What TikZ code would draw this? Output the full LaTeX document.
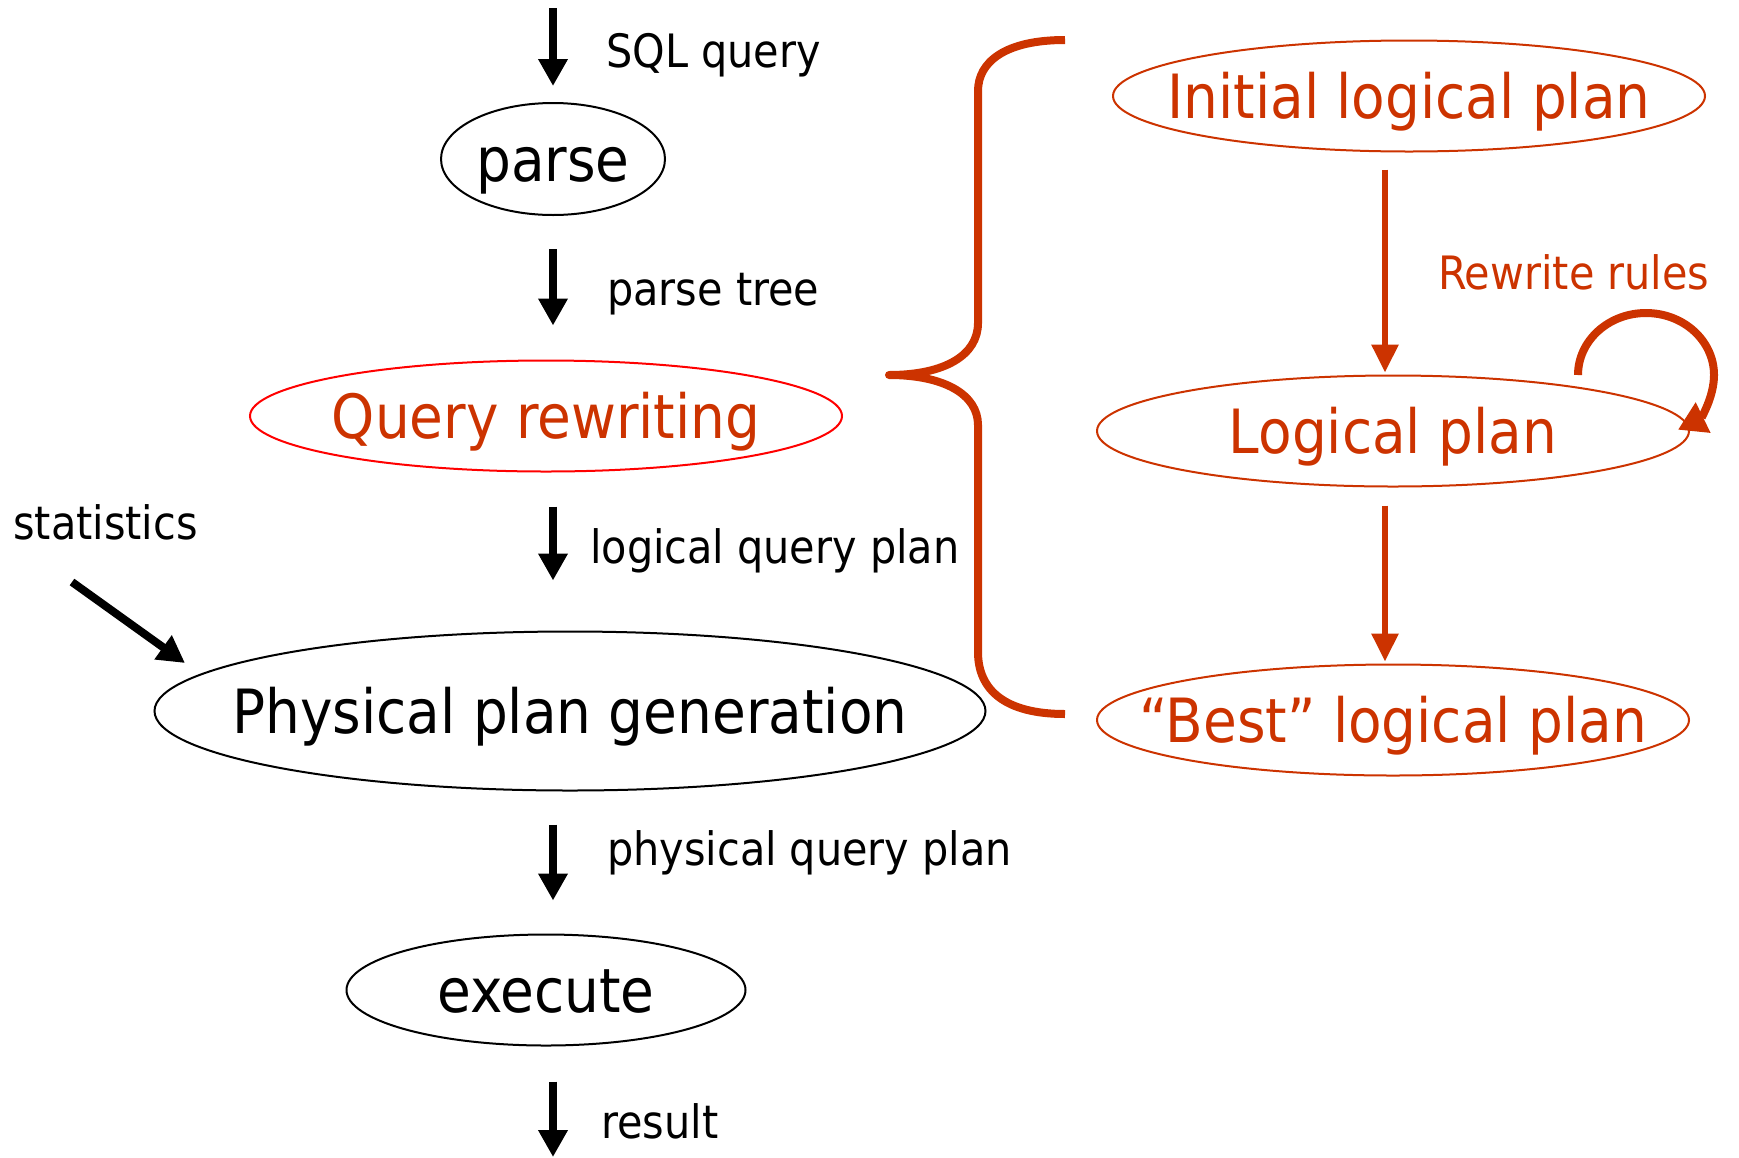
\documentclass[tikz,border=0pt]{standalone}
\usepackage{fontspec}
\setmainfont{DejaVu Sans Condensed}
\usetikzlibrary{shapes.geometric,arrows.meta,positioning}
\definecolor{rust}{HTML}{CC3300}
\tikzstyle{oval}=[ellipse,draw,line width=2pt,inner sep=0pt,text height=44pt,text depth=0pt,font=\fontsize{61}{70}\selectfont]
\tikzstyle{roval}=[oval,draw=rust,text=rust,minimum width=592pt,minimum height=111pt]
\tikzstyle{lbl}=[anchor=base west,inner sep=0pt,font=\fontsize{46}{52}\selectfont]
\tikzstyle{flow}=[line width=8pt,-{Triangle[width=28pt,length=27pt]}]
\tikzstyle{rflow}=[draw=rust,line width=6pt,-{Triangle[width=26pt,length=28pt]}]

\begin{document}
\begin{tikzpicture}[x=1pt,y=1pt]
	\useasboundingbox (0,0) rectangle (1739,-1157);
	% main pipeline
	\node[oval,minimum width=224pt,minimum height=112pt] (parse) at (553,-159) {\makebox[0pt]{parse}};
	\node[oval,draw=red,text=rust,minimum width=592pt,minimum height=111pt] (rewrite) at (546,-416) {\makebox[0pt]{Query rewriting}};
	\node[oval,minimum width=831pt,minimum height=159pt] (phys) at (570,-711) {\makebox[0pt]{Physical plan generation}};
	\node[oval,minimum width=399pt,minimum height=111pt] (exec) at (546,-990) {\makebox[0pt]{execute}};
	% labels
	\node[lbl] (sql) at (606,-67) {SQL query};
	\node[lbl] (tree) at (607,-305) {parse tree};
	\node[lbl] (lqp) at (590,-563) {logical query plan};
	\node[lbl] (stats) at (13,-539) {statistics};
	\node[lbl] (pqp) at (607,-865) {physical query plan};
	\node[lbl] (res) at (601,-1138) {result};
	% rewriting detail
	\node[roval] (initial) at (1409,-96) {\makebox[0pt]{Initial logical plan}};
	\node[roval] (logical) at (1393,-431) {\makebox[0pt]{Logical plan}};
	\node[roval] (best) at (1393,-720) {\makebox[0pt]{“Best” logical plan}};
	\node[lbl,text=rust] (rules) at (1438,-289) {Rewrite rules};
	\coordinate (sqlin) at (553,-8);
	\coordinate (resout) at (553,-1157);
	\coordinate (stata) at (72,-582);
	\coordinate (statb) at (185,-663);
	\coordinate (loopa) at (1578,-375);
	\draw[flow] (sqlin) -- ([yshift=16pt]parse.north);
	\draw[flow,shorten <=33pt,shorten >=34pt] (parse.south) -- (parse.south |- rewrite.north);
	\draw[flow,shorten <=34pt,shorten >=50pt] (parse.south |- rewrite.south) -- (parse.south |- phys.north);
	\draw[flow,shorten <=33pt,shorten >=33pt] (parse.south |- phys.south) -- (parse.south |- exec.north);
	\draw[flow,shorten <=35pt] (parse.south |- exec.south) -- (resout);
	\draw[flow] (stata) -- (statb);
	\draw[rflow,shorten <=17pt,shorten >=2pt] ([xshift=-24pt]initial.south) -- ([xshift=-8pt]logical.north);
	\draw[rflow,shorten <=18pt,shorten >=2pt] ([xshift=-8pt]logical.south) -- ([xshift=-8pt]best.north);
	\draw[rust,line width=8pt,-{Triangle[width=32pt,length=28pt]}] (loopa) arc[start angle=180,end angle=-62,x radius=68pt,y radius=62pt];
	% brace
	\draw[rust,line width=8pt,line join=round] (1065,-40) .. controls (1005,-40) and (978,-62) .. (978,-91) -- (978,-323)
		.. controls (978,-355) and (945,-375) .. (889,-375) .. controls (945,-375) and (978,-395) .. (978,-425)
		-- (978,-652) .. controls (978,-690) and (1005,-714) .. (1065,-714);
\end{tikzpicture}
\end{document}
